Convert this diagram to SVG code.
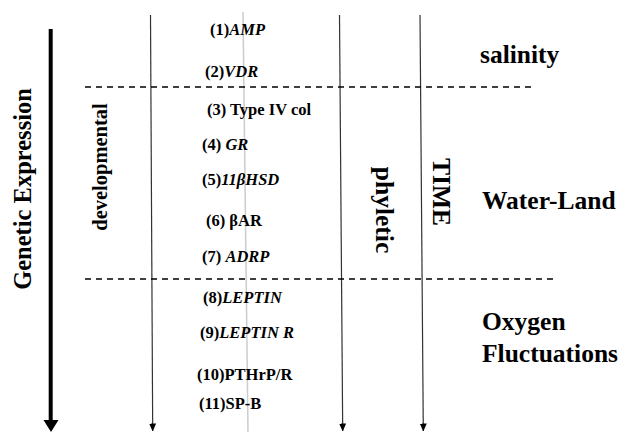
<svg xmlns="http://www.w3.org/2000/svg" width="622" height="432" viewBox="0 0 622 432">
<style>
.lbl{font-family:"Liberation Serif","Times New Roman",serif;font-weight:bold;font-size:16.5px;fill:#000}
.it{font-style:italic}
.big{font-family:"Liberation Serif","Times New Roman",serif;font-weight:bold;font-size:25.5px;fill:#000}
.thin{stroke:#333;stroke-width:1.2;fill:none}
.dash{stroke:#000;stroke-width:1.3;stroke-dasharray:6,5;fill:none}
</style>
<defs>
<marker id="ah" markerWidth="8" markerHeight="7" refX="7.5" refY="3.5" orient="auto" markerUnits="userSpaceOnUse">
<path d="M0,0 L8,3.5 L0,7 Z" fill="#000"/>
</marker>
</defs>
<g id="connectors">
<line x1="50.7" y1="29" x2="50.7" y2="421" stroke="#000" stroke-width="4"/>
<path d="M43.5,420 L58.5,420 L51,432 Z" fill="#000"/>
<line class="thin" x1="150.5" y1="15" x2="152.7" y2="431" marker-end="url(#ah)"/>
<line x1="243" y1="12" x2="248" y2="432" stroke="#ccc" stroke-width="1.5"/>
<line class="thin" x1="339.5" y1="15" x2="342.7" y2="431" marker-end="url(#ah)"/>
<line class="thin" x1="420" y1="15" x2="423.3" y2="431" marker-end="url(#ah)"/>
<line class="dash" x1="85" y1="87" x2="536" y2="87"/>
<line class="dash" x1="85" y1="279" x2="554" y2="279"/>
</g>
<g id="genetic-expression"><text class="big" transform="translate(31,189) rotate(-90)" text-anchor="middle" style="font-size:24.5px">Genetic Expression</text></g>
<g id="developmental"><text class="big" transform="translate(107,167) rotate(-90)" text-anchor="middle" style="font-size:20.5px">developmental</text></g>
<g id="phyletic"><text class="big" transform="translate(376,210) rotate(90)" text-anchor="middle">phyletic</text></g>
<g id="time"><text class="big" transform="translate(433,192) rotate(90)" text-anchor="middle">TIME</text></g>
<g id="salinity"><text class="big" x="480" y="63">salinity</text></g>
<g id="water-land"><text class="big" x="482" y="209">Water-Land</text></g>
<g id="oxygen"><text class="big" x="482" y="330">Oxygen</text><text class="big" x="482" y="362">Fluctuations</text></g>
<g id="g1"><text class="lbl" x="210" y="35">(1)<tspan class="it">AMP</tspan></text></g>
<g id="g2"><text class="lbl" x="205" y="77">(2)<tspan class="it">VDR</tspan></text></g>
<g id="g3"><text class="lbl" x="207" y="115">(3) Type IV col</text></g>
<g id="g4"><text class="lbl" x="202" y="150">(4)  <tspan class="it">GR</tspan></text></g>
<g id="g5"><text class="lbl" x="202" y="185">(5)<tspan class="it">11βHSD</tspan></text></g>
<g id="g6"><text class="lbl" x="206" y="226">(6) βAR</text></g>
<g id="g7"><text class="lbl" x="202" y="262">(7) <tspan class="it">ADRP</tspan></text></g>
<g id="g8"><text class="lbl" x="203" y="303">(8)<tspan class="it">LEPTIN</tspan></text></g>
<g id="g9"><text class="lbl" x="200" y="338">(9)<tspan class="it">LEPTIN R</tspan></text></g>
<g id="g10"><text class="lbl" x="197" y="380">(10)PTHrP/R</text></g>
<g id="g11"><text class="lbl" x="199" y="409">(11)SP-B</text></g>
</svg>
